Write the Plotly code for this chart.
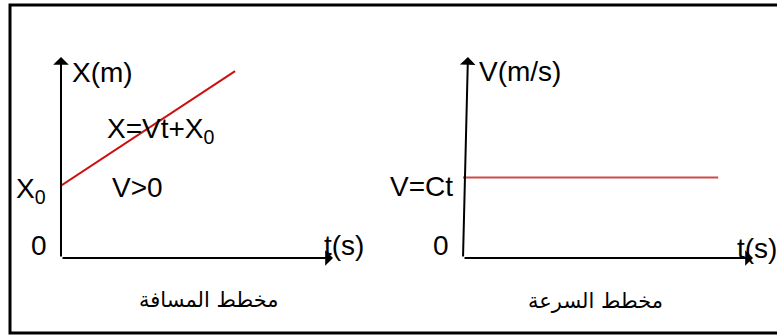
import plotly.graph_objects as go

# ---- data ----
pos_t = [0.0, 6.4]          # time values of the position line
pos_x = [3.6, 9.3]          # position values (starts at X0)
vel_t = [0.0, 8.8]          # time values of the velocity line
vel_v = [4.0, 4.0]          # constant velocity
axis_max = 10.0

left_title = "مخطط المسافة"
right_title = "مخطط السرعة"
left_ylabel = "X(m)"
right_ylabel = "V(m/s)"
xlabel = "t(s)"
eq_label = "X=Vt+X<sub>0</sub>"
cond_label = "V>0"
x0_label = "X<sub>0</sub>"
vct_label = "V=Ct"
zero_label = "0"

W, H = 777, 336
def px(x):
    return x / W
def py(y):
    return 1 - y / H

LAT = "Liberation Sans, Arial, sans-serif"
ARF = "DejaVu Sans, Noto Sans, sans-serif"
FS = 28

fig = go.Figure()
fig.add_trace(go.Scatter(x=pos_t, y=pos_x, mode="lines",
                         line=dict(color="#cc1010", width=2),
                         xaxis="x", yaxis="y", showlegend=False, hoverinfo="skip"))
fig.add_trace(go.Scatter(x=vel_t, y=vel_v, mode="lines",
                         line=dict(color="#cf4a4a", width=2),
                         xaxis="x2", yaxis="y2", showlegend=False, hoverinfo="skip"))

ax_common = dict(showgrid=False, zeroline=False, showticklabels=False,
                 showline=False, ticks="", fixedrange=True)
ydom = [py(258), py(57)]
fig.update_layout(
    width=W, height=H,
    margin=dict(l=0, r=0, t=0, b=0),
    paper_bgcolor="white", plot_bgcolor="white",
    xaxis=dict(domain=[px(61), px(333)], range=[0, axis_max], anchor="y", **ax_common),
    yaxis=dict(domain=ydom, range=[0, axis_max], anchor="x", **ax_common),
    xaxis2=dict(domain=[px(463), px(753)], range=[0, axis_max], anchor="y2", **ax_common),
    yaxis2=dict(domain=ydom, range=[0, axis_max], anchor="x2", **ax_common),
)

ann = []
def arrow(xr, yr, x0, y0, x1, y1):
    ann.append(dict(x=x1, y=y1, ax=x0, ay=y0, xref=xr, yref=yr, axref=xr, ayref=yr,
                    text="", showarrow=True, arrowhead=1, arrowsize=1.3,
                    arrowwidth=2, arrowcolor="black", standoff=0, startstandoff=0))

# axes with arrows
arrow("x", "y", 0, 0, axis_max, 0)
arrow("x", "y", 0, 0, 0, axis_max)
arrow("x2", "y2", 0, 0, axis_max, 0)
arrow("x2", "y2", 0, 0, 0.17, axis_max)

def txt(s, x, y, size=FS, xa="left", font=LAT):
    ann.append(dict(text=s, x=px(x), y=py(y), xref="paper", yref="paper",
                    xanchor=xa, yanchor="middle", showarrow=False,
                    font=dict(family=font, size=size, color="black")))

# left chart labels
txt(left_ylabel, 70, 72)
txt(eq_label, 105, 131)
txt(cond_label, 110, 187)
txt(x0_label, 14, 190)
txt(zero_label, 29, 245)
txt(xlabel, 322, 246)
txt(left_title, 209, 300, size=21, xa="center", font=ARF)

# right chart labels
txt(right_ylabel, 477, 71)
txt(vct_label, 388, 186)
txt(zero_label, 431, 246)
txt(xlabel, 735, 248)
txt(right_title, 595, 301, size=21, xa="center", font=ARF)

fig.update_layout(annotations=ann)

# outer frame
fig.add_shape(type="rect", xref="paper", yref="paper",
              x0=px(10), x1=1.05, y0=py(333), y1=py(5),
              line=dict(color="black", width=3), fillcolor="rgba(0,0,0,0)")

fig.write_html("out.html",
               config={"displayModeBar": False, "staticPlot": True},
               post_script="document.body.style.margin='0';document.body.style.overflow='hidden';")
